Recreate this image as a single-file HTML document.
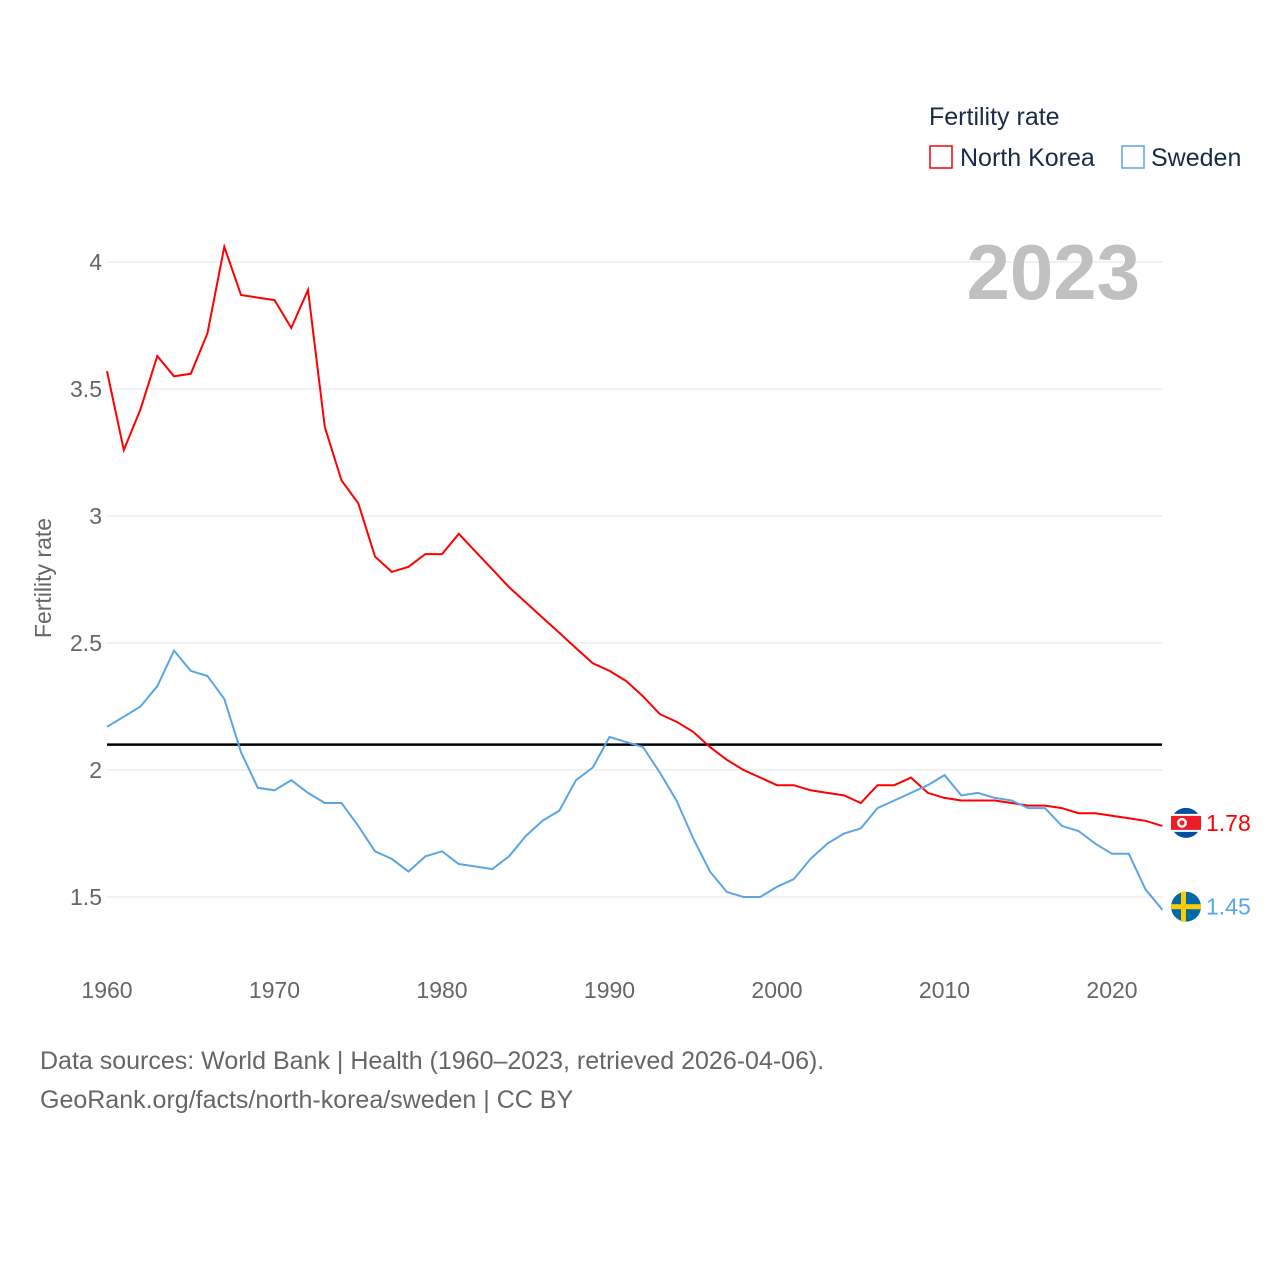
<!DOCTYPE html>
<html><head><meta charset="utf-8"><style>
html,body{margin:0;padding:0;background:#fff;}
svg{display:block;font-family:"Liberation Sans",sans-serif;}
</style></head><body>
<svg id="chart" width="1280" height="1280" viewBox="0 0 1280 1280">
<g id="grid"></g>
<g id="yticks"></g>
<g id="xticks"></g>
<text x="51" y="578" transform="rotate(-90 51 578)" text-anchor="middle" font-size="23" fill="#666">Fertility rate</text>
<text x="1140" y="299" text-anchor="end" font-size="78" font-weight="bold" fill="#c0c0c0">2023</text>
<g>
<text x="929" y="125" font-size="25" fill="#1a2b48">Fertility rate</text>
<g><rect x="930" y="146" width="22" height="22" fill="none" stroke="#f00" stroke-width="1.5"/><text x="960" y="166" font-size="25" fill="#1a2b48">North Korea</text></g>
<g><rect x="1122" y="146" width="22" height="22" fill="none" stroke="#5aa5e6" stroke-width="1.5"/><text x="1151" y="166" font-size="25" fill="#1a2b48">Sweden</text></g>
</g>
<line id="repl" x1="107" x2="1162" stroke="#000" stroke-width="2.5"/>
<path id="nk" fill="none" stroke="#f00" stroke-width="2"/>
<path id="se" fill="none" stroke="#5aa5e6" stroke-width="2"/>
<g id="ends"></g>
<text x="40" y="1069" font-size="25" fill="#666">Data sources: World Bank | Health (1960–2023, retrieved 2026-04-06).</text>
<text x="40" y="1108" font-size="25" fill="#666">GeoRank.org/facts/north-korea/sweden | CC BY</text>
</svg>
<script>
const years = [];for(let y=1960;y<=2023;y++)years.push(y);
const northKorea = [3.57,3.26,3.42,3.63,3.55,3.56,3.72,4.06,3.87,3.86,3.85,3.74,3.89,3.35,3.14,3.05,2.84,2.78,2.80,2.85,2.85,2.93,2.86,2.79,2.72,2.66,2.60,2.54,2.48,2.42,2.39,2.35,2.29,2.22,2.19,2.15,2.09,2.04,2.00,1.97,1.94,1.94,1.92,1.91,1.90,1.87,1.94,1.94,1.97,1.91,1.89,1.88,1.88,1.88,1.87,1.86,1.86,1.85,1.83,1.83,1.82,1.81,1.80,1.78];
const sweden = [2.17,2.21,2.25,2.33,2.47,2.39,2.37,2.28,2.07,1.93,1.92,1.96,1.91,1.87,1.87,1.78,1.68,1.65,1.60,1.66,1.68,1.63,1.62,1.61,1.66,1.74,1.80,1.84,1.96,2.01,2.13,2.11,2.09,1.99,1.88,1.73,1.60,1.52,1.50,1.50,1.54,1.57,1.65,1.71,1.75,1.77,1.85,1.88,1.91,1.94,1.98,1.90,1.91,1.89,1.88,1.85,1.85,1.78,1.76,1.71,1.67,1.67,1.53,1.45];
const yTicks = [1.5,2,2.5,3,3.5,4];
const xTicks = [1960,1970,1980,1990,2000,2010,2020];
const replacementRate = 2.1;
const X = y => 107 + (y-1960)*16.75;
const Y = v => 897 - (v-1.5)*254;
const NS="http://www.w3.org/2000/svg";
function mk(t,a,p){const e=document.createElementNS(NS,t);for(const k in a)e.setAttribute(k,a[k]);p.appendChild(e);return e;}
const grid=document.getElementById('grid'),yt=document.getElementById('yticks'),xt=document.getElementById('xticks');
yTicks.forEach(v=>{
 const l=mk('line',{x1:107,x2:1162,y1:Y(v),y2:Y(v),stroke:'#e6e6e6','stroke-width':1},grid);
 
 
 const t=mk('text',{x:102,y:Y(v)+8,'text-anchor':'end','font-size':23,fill:'#666'},yt);t.textContent=v;
 
 
});
xTicks.forEach(v=>{
 const t=mk('text',{x:X(v),y:998,'text-anchor':'middle','font-size':23,fill:'#666'},xt);t.textContent=v;
 
 
});
const r=document.getElementById('repl');r.setAttribute('y1',Y(replacementRate));r.setAttribute('y2',Y(replacementRate));
const path=a=>a.map((v,i)=>(i?'L':'M')+X(years[i]).toFixed(1)+','+Y(v).toFixed(1)).join('');
document.getElementById('nk').setAttribute('d',path(northKorea));
document.getElementById('se').setAttribute('d',path(sweden));
const ends=document.getElementById('ends');
function endLabel(arr,col,name,flag){
 const v=arr[arr.length-1],cy=Y(v)-3,cx=1186;
 const g=mk('g',{},ends);
 
 
 if(flag==='nk'){
  mk('circle',{cx:cx,cy:cy,r:15,fill:'#024fa2'},g);
  mk('rect',{x:cx-15,y:cy-9,width:30,height:18,fill:'#fff'},g);
  mk('rect',{x:cx-15,y:cy-7,width:30,height:14,fill:'#ed1c27'},g);
  mk('circle',{cx:cx-4,cy:cy,r:5,fill:'#fff'},g);
  mk('circle',{cx:cx-4,cy:cy,r:2.5,fill:'#ed1c27'},g);
 } else {
  mk('circle',{cx:cx,cy:cy,r:15,fill:'#006aa7'},g);
  mk('rect',{x:cx-15,y:cy-2.5,width:30,height:5,fill:'#fecc00'},g);
  mk('rect',{x:cx-5,y:cy-15,width:5,height:30,fill:'#fecc00'},g);
 }
 const t=mk('text',{x:1206,y:cy+8,'font-size':23,fill:col},g);t.textContent=v.toFixed(2);
}
endLabel(northKorea,'#f00','north-korea','nk');
endLabel(sweden,'#5aa5e6','sweden','se');
</script>
</body></html>
